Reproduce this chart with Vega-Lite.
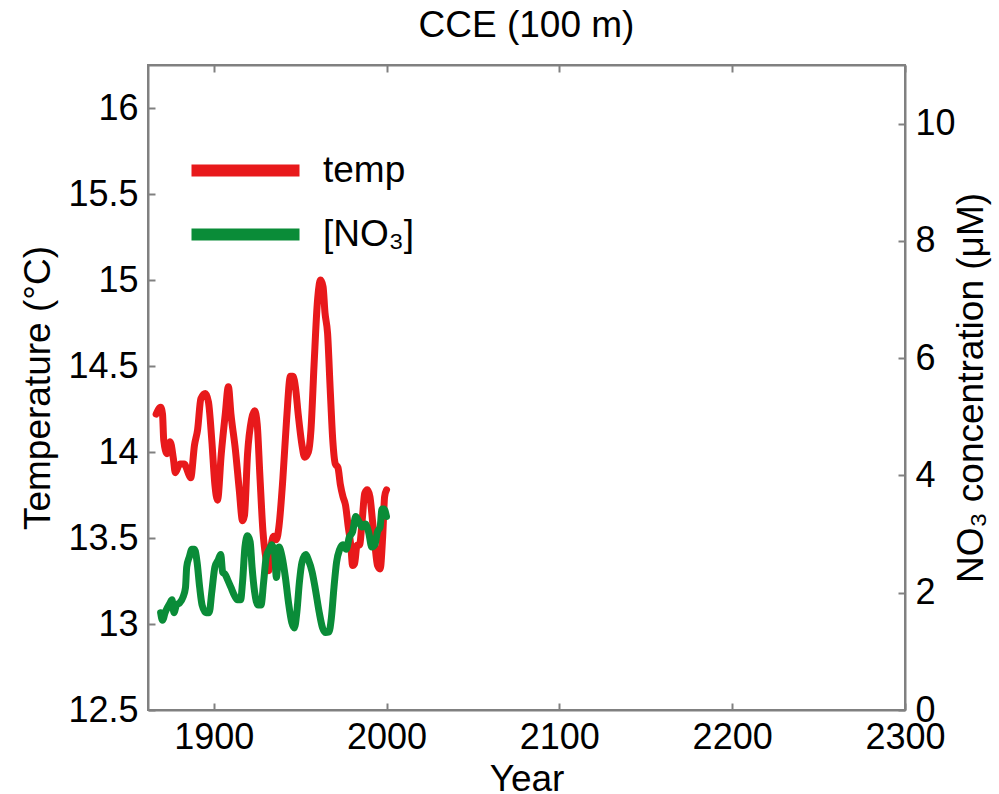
{
  "$schema": "https://vega.github.io/schema/vega-lite/v6.json",
  "width": 757,
  "height": 645,
  "autosize": {"type": "none"},
  "padding": {"left": 148, "top": 65, "right": 94, "bottom": 84},
  "background": "white",
  "config": {
    "view": {"stroke": "#808080", "strokeWidth": 2},
    "font": "Liberation Sans",
    "axis": {
      "domainColor": "#808080", "domainWidth": 2, "tickColor": "#808080", "tickWidth": 2,
      "grid": false, "labelFont": "Liberation Sans", "labelFontSize": 36, "labelColor": "black",
      "titleFont": "Liberation Sans", "titleFontSize": 37, "titleFontWeight": "normal", "titleColor": "black",
      "tickSize": -7, "labelFlush": false
    }
  },
  "title": {"text": "CCE (100 m)", "fontSize": 37, "fontWeight": "normal", "font": "Liberation Sans", "anchor": "middle", "baseline": "alphabetic", "offset": -10, "color": "black"},
  "datasets": {
    "temp": [
      {"year": 1866.7, "temp": 14.22}, {"year": 1869.3, "temp": 14.26}, {"year": 1870.4, "temp": 14.22}, {"year": 1871.1, "temp": 14.07},
      {"year": 1873, "temp": 13.99}, {"year": 1874.8, "temp": 14.06}, {"year": 1876.7, "temp": 13.96}, {"year": 1877.8, "temp": 13.88},
      {"year": 1880.4, "temp": 13.93}, {"year": 1883, "temp": 13.93}, {"year": 1885.2, "temp": 13.88}, {"year": 1886.7, "temp": 13.85},
      {"year": 1888.9, "temp": 14.04}, {"year": 1890.7, "temp": 14.13}, {"year": 1892.6, "temp": 14.31}, {"year": 1895.2, "temp": 14.34},
      {"year": 1897, "temp": 14.29}, {"year": 1898.9, "temp": 14.07}, {"year": 1900.7, "temp": 13.81}, {"year": 1902.2, "temp": 13.72},
      {"year": 1904.4, "temp": 13.99}, {"year": 1906.7, "temp": 14.22}, {"year": 1908.5, "temp": 14.38}, {"year": 1910, "temp": 14.22},
      {"year": 1912.6, "temp": 14.01}, {"year": 1914.8, "temp": 13.78}, {"year": 1916.7, "temp": 13.6}, {"year": 1917.8, "temp": 13.63},
      {"year": 1919.6, "temp": 13.99}, {"year": 1921.9, "temp": 14.19}, {"year": 1923.7, "temp": 14.24}, {"year": 1925.2, "temp": 14.16},
      {"year": 1926.7, "temp": 13.87}, {"year": 1928.5, "temp": 13.54}, {"year": 1930.4, "temp": 13.37}, {"year": 1931.9, "temp": 13.31},
      {"year": 1933.3, "temp": 13.46}, {"year": 1934.8, "temp": 13.51}, {"year": 1936.3, "temp": 13.49}, {"year": 1937.8, "temp": 13.57},
      {"year": 1940, "temp": 13.84}, {"year": 1942.2, "temp": 14.19}, {"year": 1944.4, "temp": 14.44}, {"year": 1945.9, "temp": 14.44},
      {"year": 1947.4, "temp": 14.37}, {"year": 1948.9, "temp": 14.22}, {"year": 1951.1, "temp": 14.04}, {"year": 1952.6, "temp": 13.97},
      {"year": 1954.8, "temp": 14.0}, {"year": 1956.3, "temp": 14.13}, {"year": 1958.1, "temp": 14.51}, {"year": 1960, "temp": 14.87},
      {"year": 1961.9, "temp": 15.0}, {"year": 1963.3, "temp": 14.96}, {"year": 1964.4, "temp": 14.81}, {"year": 1965.9, "temp": 14.69},
      {"year": 1967.4, "temp": 14.37}, {"year": 1968.9, "temp": 14.07}, {"year": 1970.4, "temp": 13.93}, {"year": 1971.9, "temp": 13.91},
      {"year": 1973.3, "temp": 13.81}, {"year": 1974.8, "temp": 13.74}, {"year": 1976.3, "temp": 13.69}, {"year": 1977.8, "temp": 13.57},
      {"year": 1979.3, "temp": 13.46}, {"year": 1980.4, "temp": 13.34}, {"year": 1981.5, "temp": 13.35}, {"year": 1983, "temp": 13.46},
      {"year": 1984.4, "temp": 13.46}, {"year": 1985.9, "temp": 13.6}, {"year": 1987.4, "temp": 13.76}, {"year": 1988.9, "temp": 13.78},
      {"year": 1990.4, "temp": 13.74}, {"year": 1991.9, "temp": 13.6}, {"year": 1993.3, "temp": 13.46}, {"year": 1994.8, "temp": 13.34},
      {"year": 1996.3, "temp": 13.32}, {"year": 1997.8, "temp": 13.51}, {"year": 1998.9, "temp": 13.74}, {"year": 2000, "temp": 13.78}
    ],
    "no3": [
      {"year": 1869.3, "no3": 1.66}, {"year": 1870.4, "no3": 1.53}, {"year": 1871.9, "no3": 1.66}, {"year": 1873.3, "no3": 1.75},
      {"year": 1874.8, "no3": 1.83}, {"year": 1875.9, "no3": 1.88}, {"year": 1877, "no3": 1.66}, {"year": 1878.5, "no3": 1.79},
      {"year": 1880.4, "no3": 1.83}, {"year": 1882.2, "no3": 1.92}, {"year": 1883.7, "no3": 2.09}, {"year": 1884.4, "no3": 2.44},
      {"year": 1885.9, "no3": 2.61}, {"year": 1887.4, "no3": 2.74}, {"year": 1888.9, "no3": 2.74}, {"year": 1890.4, "no3": 2.52},
      {"year": 1891.9, "no3": 2.09}, {"year": 1893.3, "no3": 1.79}, {"year": 1895.6, "no3": 1.66}, {"year": 1897.4, "no3": 1.66},
      {"year": 1898.9, "no3": 2.01}, {"year": 1900.7, "no3": 2.44}, {"year": 1902.6, "no3": 2.56}, {"year": 1904.1, "no3": 2.65},
      {"year": 1905.2, "no3": 2.35}, {"year": 1906.7, "no3": 2.31}, {"year": 1908.1, "no3": 2.22}, {"year": 1910, "no3": 2.09},
      {"year": 1911.9, "no3": 1.96}, {"year": 1913.7, "no3": 1.88}, {"year": 1915.6, "no3": 1.88}, {"year": 1916.7, "no3": 2.18},
      {"year": 1918.1, "no3": 2.78}, {"year": 1919.6, "no3": 2.97}, {"year": 1921.1, "no3": 2.87}, {"year": 1922.2, "no3": 2.44},
      {"year": 1923.7, "no3": 2.01}, {"year": 1925.6, "no3": 1.79}, {"year": 1927.4, "no3": 1.79}, {"year": 1928.9, "no3": 2.18},
      {"year": 1930.4, "no3": 2.61}, {"year": 1932.2, "no3": 2.74}, {"year": 1933.7, "no3": 2.82}, {"year": 1935.2, "no3": 2.69},
      {"year": 1936.3, "no3": 2.26}, {"year": 1937.8, "no3": 2.78}, {"year": 1939.6, "no3": 2.61}, {"year": 1941.5, "no3": 2.26},
      {"year": 1943.3, "no3": 1.83}, {"year": 1945.2, "no3": 1.49}, {"year": 1946.7, "no3": 1.4}, {"year": 1948.1, "no3": 1.66},
      {"year": 1949.6, "no3": 2.18}, {"year": 1951.1, "no3": 2.52}, {"year": 1953.3, "no3": 2.65}, {"year": 1954.8, "no3": 2.56},
      {"year": 1957, "no3": 2.35}, {"year": 1958.9, "no3": 2.05}, {"year": 1961.1, "no3": 1.66}, {"year": 1963, "no3": 1.4},
      {"year": 1964.8, "no3": 1.32}, {"year": 1966.7, "no3": 1.33}, {"year": 1968.1, "no3": 1.57}, {"year": 1969.6, "no3": 2.09},
      {"year": 1971.1, "no3": 2.52}, {"year": 1972.9, "no3": 2.74}, {"year": 1974.8, "no3": 2.82}, {"year": 1976.7, "no3": 2.74},
      {"year": 1978.5, "no3": 2.95}, {"year": 1980.4, "no3": 3.04}, {"year": 1982.2, "no3": 3.3}, {"year": 1984.1, "no3": 3.21},
      {"year": 1985.9, "no3": 3.12}, {"year": 1987.8, "no3": 3.17}, {"year": 1989.6, "no3": 3.04}, {"year": 1991.5, "no3": 2.78},
      {"year": 1993.3, "no3": 2.82}, {"year": 1994.8, "no3": 3.04}, {"year": 1996.3, "no3": 3.12}, {"year": 1997.4, "no3": 3.43},
      {"year": 1998.5, "no3": 3.43}, {"year": 2000, "no3": 3.3}
    ]
  },
  "layer": [
    {
      "data": {"name": "temp"},
      "mark": {"type": "line", "strokeWidth": 7, "strokeCap": "round", "strokeJoin": "round", "interpolate": "monotone", "clip": true},
      "encoding": {
        "x": {"field": "year", "type": "quantitative", "scale": {"domain": [1862, 2300], "nice": false, "zero": false},
              "axis": {"orient": "bottom", "title": "Year", "values": [1900, 2000, 2100, 2200, 2300], "format": "d", "labelPadding": 17, "titlePadding": 6}},
        "y": {"field": "temp", "type": "quantitative", "scale": {"domain": [12.5, 16.25], "nice": false, "zero": false},
              "axis": {"orient": "left", "title": "Temperature (°C)", "values": [12.5, 13, 13.5, 14, 14.5, 15, 15.5, 16], "format": "~g", "labelPadding": 17, "titlePadding": 10}},
        "color": {"datum": "temp", "type": "nominal",
                  "scale": {"domain": ["temp", "[NO₃]"], "range": ["#e8191b", "#0a8c38"]},
                  "legend": {"orient": "none", "legendX": 78, "legendY": 86, "title": null,
                             "symbolType": "M-4,0H4", "symbolSize": 729, "symbolStrokeWidth": 12,
                             "labelFontSize": 37, "labelFont": "Liberation Sans", "labelOffset": 58, "rowPadding": 15, "labelColor": "black"}}
      }
    },
    {
      "data": {"name": "no3"},
      "mark": {"type": "line", "strokeWidth": 7, "strokeCap": "round", "strokeJoin": "round", "interpolate": "monotone", "clip": true},
      "encoding": {
        "x": {"field": "year", "type": "quantitative",
              "axis": {"orient": "top", "title": null, "labels": false, "values": [1900, 2000, 2100, 2200, 2300]}},
        "y": {"field": "no3", "type": "quantitative", "scale": {"domain": [0, 11], "nice": false, "zero": false},
              "axis": {"orient": "right", "title": "NO₃ concentration (μM)", "titleAngle": 270, "values": [0, 2, 4, 6, 8, 10], "labelPadding": 17, "titlePadding": 35}},
        "color": {"datum": "[NO₃]", "type": "nominal"}
      }
    }
  ],
  "resolve": {"scale": {"y": "independent"}, "axis": {"x": "independent", "y": "independent"}}
}
